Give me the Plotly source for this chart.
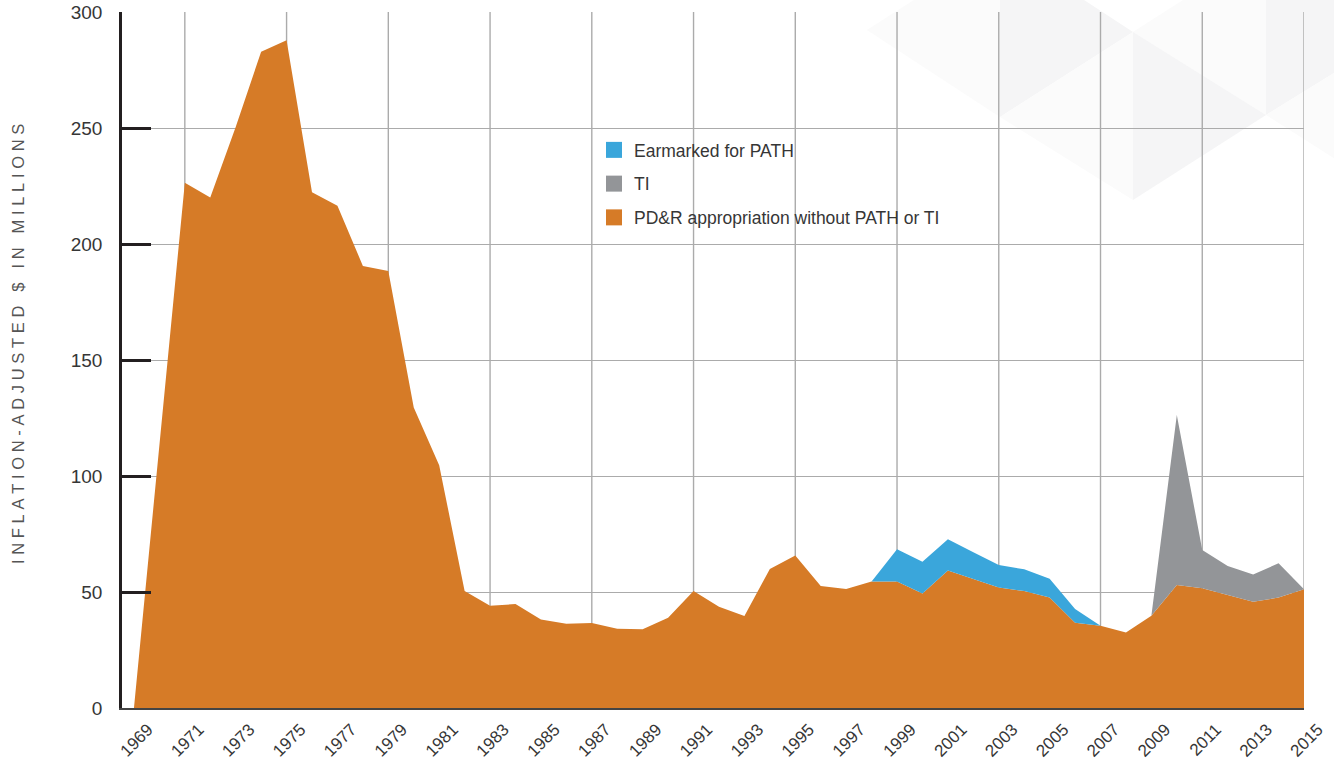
import plotly.graph_objects as go

# ---------------- data ----------------
years = list(range(1969, 2016))
pdr = [0, 113, 226.4, 220.1, 250.5, 282.9, 287.9, 222.3, 216.5, 190.6,
       188.4, 129.6, 104.7, 50.4, 44.1, 44.8, 38.2, 36.3, 36.6, 34.2,
       34.0, 38.9, 50.4, 43.7, 39.7, 59.9, 65.7, 52.6, 51.3, 54.5,
       54.5, 49.4, 59.3, 55.6, 51.9, 50.4, 47.6, 36.8, 35.5, 32.6,
       39.8, 53.0, 51.6, 48.7, 45.8, 47.6, 51.2]
path = [0, 0, 0, 0, 0, 0, 0, 0, 0, 0,
        0, 0, 0, 0, 0, 0, 0, 0, 0, 0,
        0, 0, 0, 0, 0, 0, 0, 0, 0, 0,
        13.9, 13.7, 13.4, 11.5, 9.7, 9.4, 8.1, 5.9, 0, 0,
        0, 0, 0, 0, 0, 0, 0]
ti = [0, 0, 0, 0, 0, 0, 0, 0, 0, 0,
      0, 0, 0, 0, 0, 0, 0, 0, 0, 0,
      0, 0, 0, 0, 0, 0, 0, 0, 0, 0,
      0, 0, 0, 0, 0, 0, 0, 0, 0, 0,
      0, 73.3, 16.5, 12.5, 11.7, 14.8, 0]
tick_years = list(range(1969, 2016, 2))
grid_years = list(range(1971, 2016, 4))
y_ticks = [0, 50, 100, 150, 200, 250, 300]
series_names = ["Earmarked for PATH", "TI", "PD&R appropriation without PATH or TI"]
y_title = "INFLATION-ADJUSTED $ IN MILLIONS"

ORANGE = "#D67B27"
BLUE = "#3AA6DB"
GREY = "#939598"
FONT = "Liberation Sans"
TXT = "#363636"

W, H = 1334, 761
OFF = 0  # page body margin removed via post_script
# desired plot area in screen pixels
SL, SR, ST, SB = 122, 1304, 12, 708
ML = SL - OFF
MT = ST - OFF
MR = W - (SR - OFF)
MB = H - (SB - OFF)
PW, PH = SR - SL, SB - ST


def px(x):
    return (x - SL) / PW


def py(y):
    return (SB - y) / PH


fig = go.Figure()

# stacked areas
for vals, col, nm in [(pdr, ORANGE, series_names[2]), (path, BLUE, series_names[0]), (ti, GREY, series_names[1])]:
    fig.add_trace(go.Scatter(x=years, y=vals, stackgroup="one", mode="lines",
                             line=dict(width=0, color=col), fillcolor=col,
                             name=nm, showlegend=False, hoverinfo="x+y+name"))

# legend entries
for i, (nm, col) in enumerate(zip(series_names, [BLUE, GREY, ORANGE])):
    fig.add_trace(go.Scatter(x=[None], y=[None], mode="markers",
                             marker=dict(symbol="square", size=16, color=col),
                             name=nm, legendgroup="g%d" % i, showlegend=True))

shapes = []
# decorative background triangles (screen pixel coordinates -> paper)
tri_light = "#fbfbfb"
tri_mid = "#f5f5f6"
tris = [
    ([(867, 30), (1000, -55), (1000, 117)], tri_light),
    ([(1000, -55), (1000, 117), (1133, 32)], tri_mid),
    ([(1000, 117), (1133, 32), (1133, 200)], tri_light),
    ([(1133, 32), (1266, -53), (1266, 115)], tri_light),
    ([(1133, 32), (1133, 200), (1266, 115)], tri_mid),
    ([(1266, -53), (1266, 115), (1400, 32)], tri_mid),
    ([(1266, 115), (1400, 32), (1400, 200)], tri_light),
]
for pts, col in tris:
    d = "M " + " L ".join("%.5f,%.5f" % (px(a), py(b)) for a, b in pts) + " Z"
    shapes.append(dict(type="path", path=d, xref="paper", yref="paper",
                       fillcolor=col, line=dict(width=0), layer="below"))

# vertical grid lines every 4 years
for gy in grid_years:
    shapes.append(dict(type="line", x0=gy, x1=gy, y0=0, y1=1, xref="x", yref="paper",
                       line=dict(color="#ababab", width=1.4), layer="below"))

spaced_title = "\u2009\u200a".join(list(y_title))

fig.update_layout(
    width=W, height=H,
    margin=dict(l=ML, r=MR, t=MT, b=MB, autoexpand=False),
    paper_bgcolor="white", plot_bgcolor="rgba(0,0,0,0)",
    font=dict(family=FONT, color=TXT),
    shapes=shapes,
    showlegend=True,
    legend=dict(x=px(594), y=py(132), xanchor="left", yanchor="top",
                bgcolor="rgba(0,0,0,0)", borderwidth=0,
                font=dict(size=17.5, color=TXT),
                traceorder="grouped", tracegroupgap=8),
    xaxis=dict(range=[1968.53, 2015], tickmode="array", tickvals=tick_years,
               tickangle=-45, showgrid=False, zeroline=False, automargin=False,
               showline=True, linecolor="#444444", linewidth=2,
               ticks="", tickfont=dict(size=17, color=TXT),
               ticklabelshift=14, ticklabelstandoff=3, ticklabeloverflow="allow"),
    yaxis=dict(range=[0, 300.05], tickmode="array", tickvals=y_ticks,
               showgrid=True, gridcolor="#ababab", gridwidth=1.4, zeroline=False,
               automargin=False, ticklabeloverflow="allow",
               showline=True, linecolor="#231f20", linewidth=2.5,
               ticks="inside", ticklen=29, tickwidth=2.5, tickcolor="#231f20",
               tickfont=dict(size=19, color=TXT), ticklabelstandoff=13),
    annotations=[dict(text=spaced_title, x=px(18), y=py(344), xref="paper", yref="paper",
                      xanchor="center", yanchor="middle", textangle=-90, showarrow=False,
                      font=dict(size=16.5, color="#555555", family=FONT))],
)

fig.write_html("out.html", config={"displayModeBar": False},
               post_script="document.body.style.margin='0px';document.body.style.overflow='hidden';")
